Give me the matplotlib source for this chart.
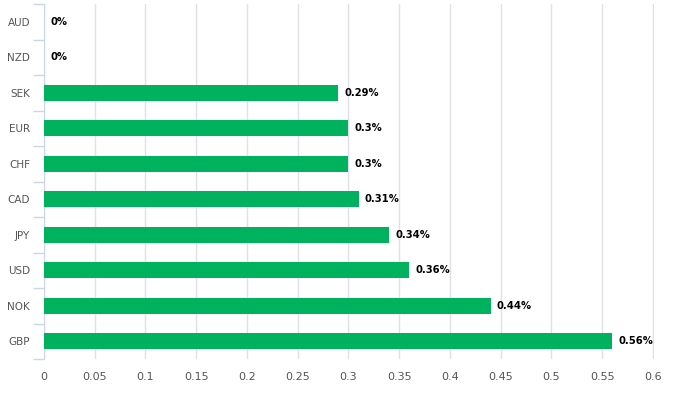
import numpy as np
import matplotlib.pyplot as plt

# valute e variazioni (dall'alto verso il basso)
currencies = ['AUD', 'NZD', 'SEK', 'EUR', 'CHF', 'CAD', 'JPY', 'USD', 'NOK', 'GBP']
values = [0, 0, 0.29, 0.3, 0.3, 0.31, 0.34, 0.36, 0.44, 0.56]
labels = ['0%', '0%', '0.29%', '0.3%', '0.3%', '0.31%', '0.34%', '0.36%', '0.44%', '0.56%']
xticks = [0, 0.05, 0.1, 0.15, 0.2, 0.25, 0.3, 0.35, 0.4, 0.45, 0.5, 0.55, 0.6]

fig = plt.figure(figsize=(6.76, 3.93), dpi=100)
ax = fig.add_axes([44 / 676, 1 - 359 / 393, (654 - 44) / 676, (359 - 4) / 393])

y = np.arange(len(currencies))
ax.barh(y, values, height=0.45, color='#00b15d', zorder=3)

for yi, v, lab in zip(y, values, labels):
    ax.annotate(lab, (v, yi), xytext=(4.5, 0), textcoords='offset points',
                ha='left', va='center', fontsize=7.2, fontweight='bold', color='#000000')

ax.set_ylim(len(currencies) - 0.5, -0.5)
ax.set_xlim(0, 0.601)
ax.set_xticks(xticks)
ax.set_xticklabels([f'{t:g}' for t in xticks])
ax.set_yticks(y)
ax.set_yticklabels(currencies)
ax.set_yticks(np.arange(-0.5, len(currencies)), minor=True)

ax.tick_params(axis='y', which='major', length=0, pad=10, labelsize=7.5, labelcolor='#555555')
ax.tick_params(axis='y', which='minor', length=8, color='#ccd6eb', width=1)
ax.tick_params(axis='x', length=0, pad=9, labelsize=8, labelcolor='#555555')

ax.grid(axis='x', color='#e0e0e6', linewidth=1, zorder=0)
for s in ['top', 'right', 'bottom']:
    ax.spines[s].set_visible(False)
ax.spines['left'].set_color('#ccd6eb')

fig.savefig('out.png', dpi=100)
